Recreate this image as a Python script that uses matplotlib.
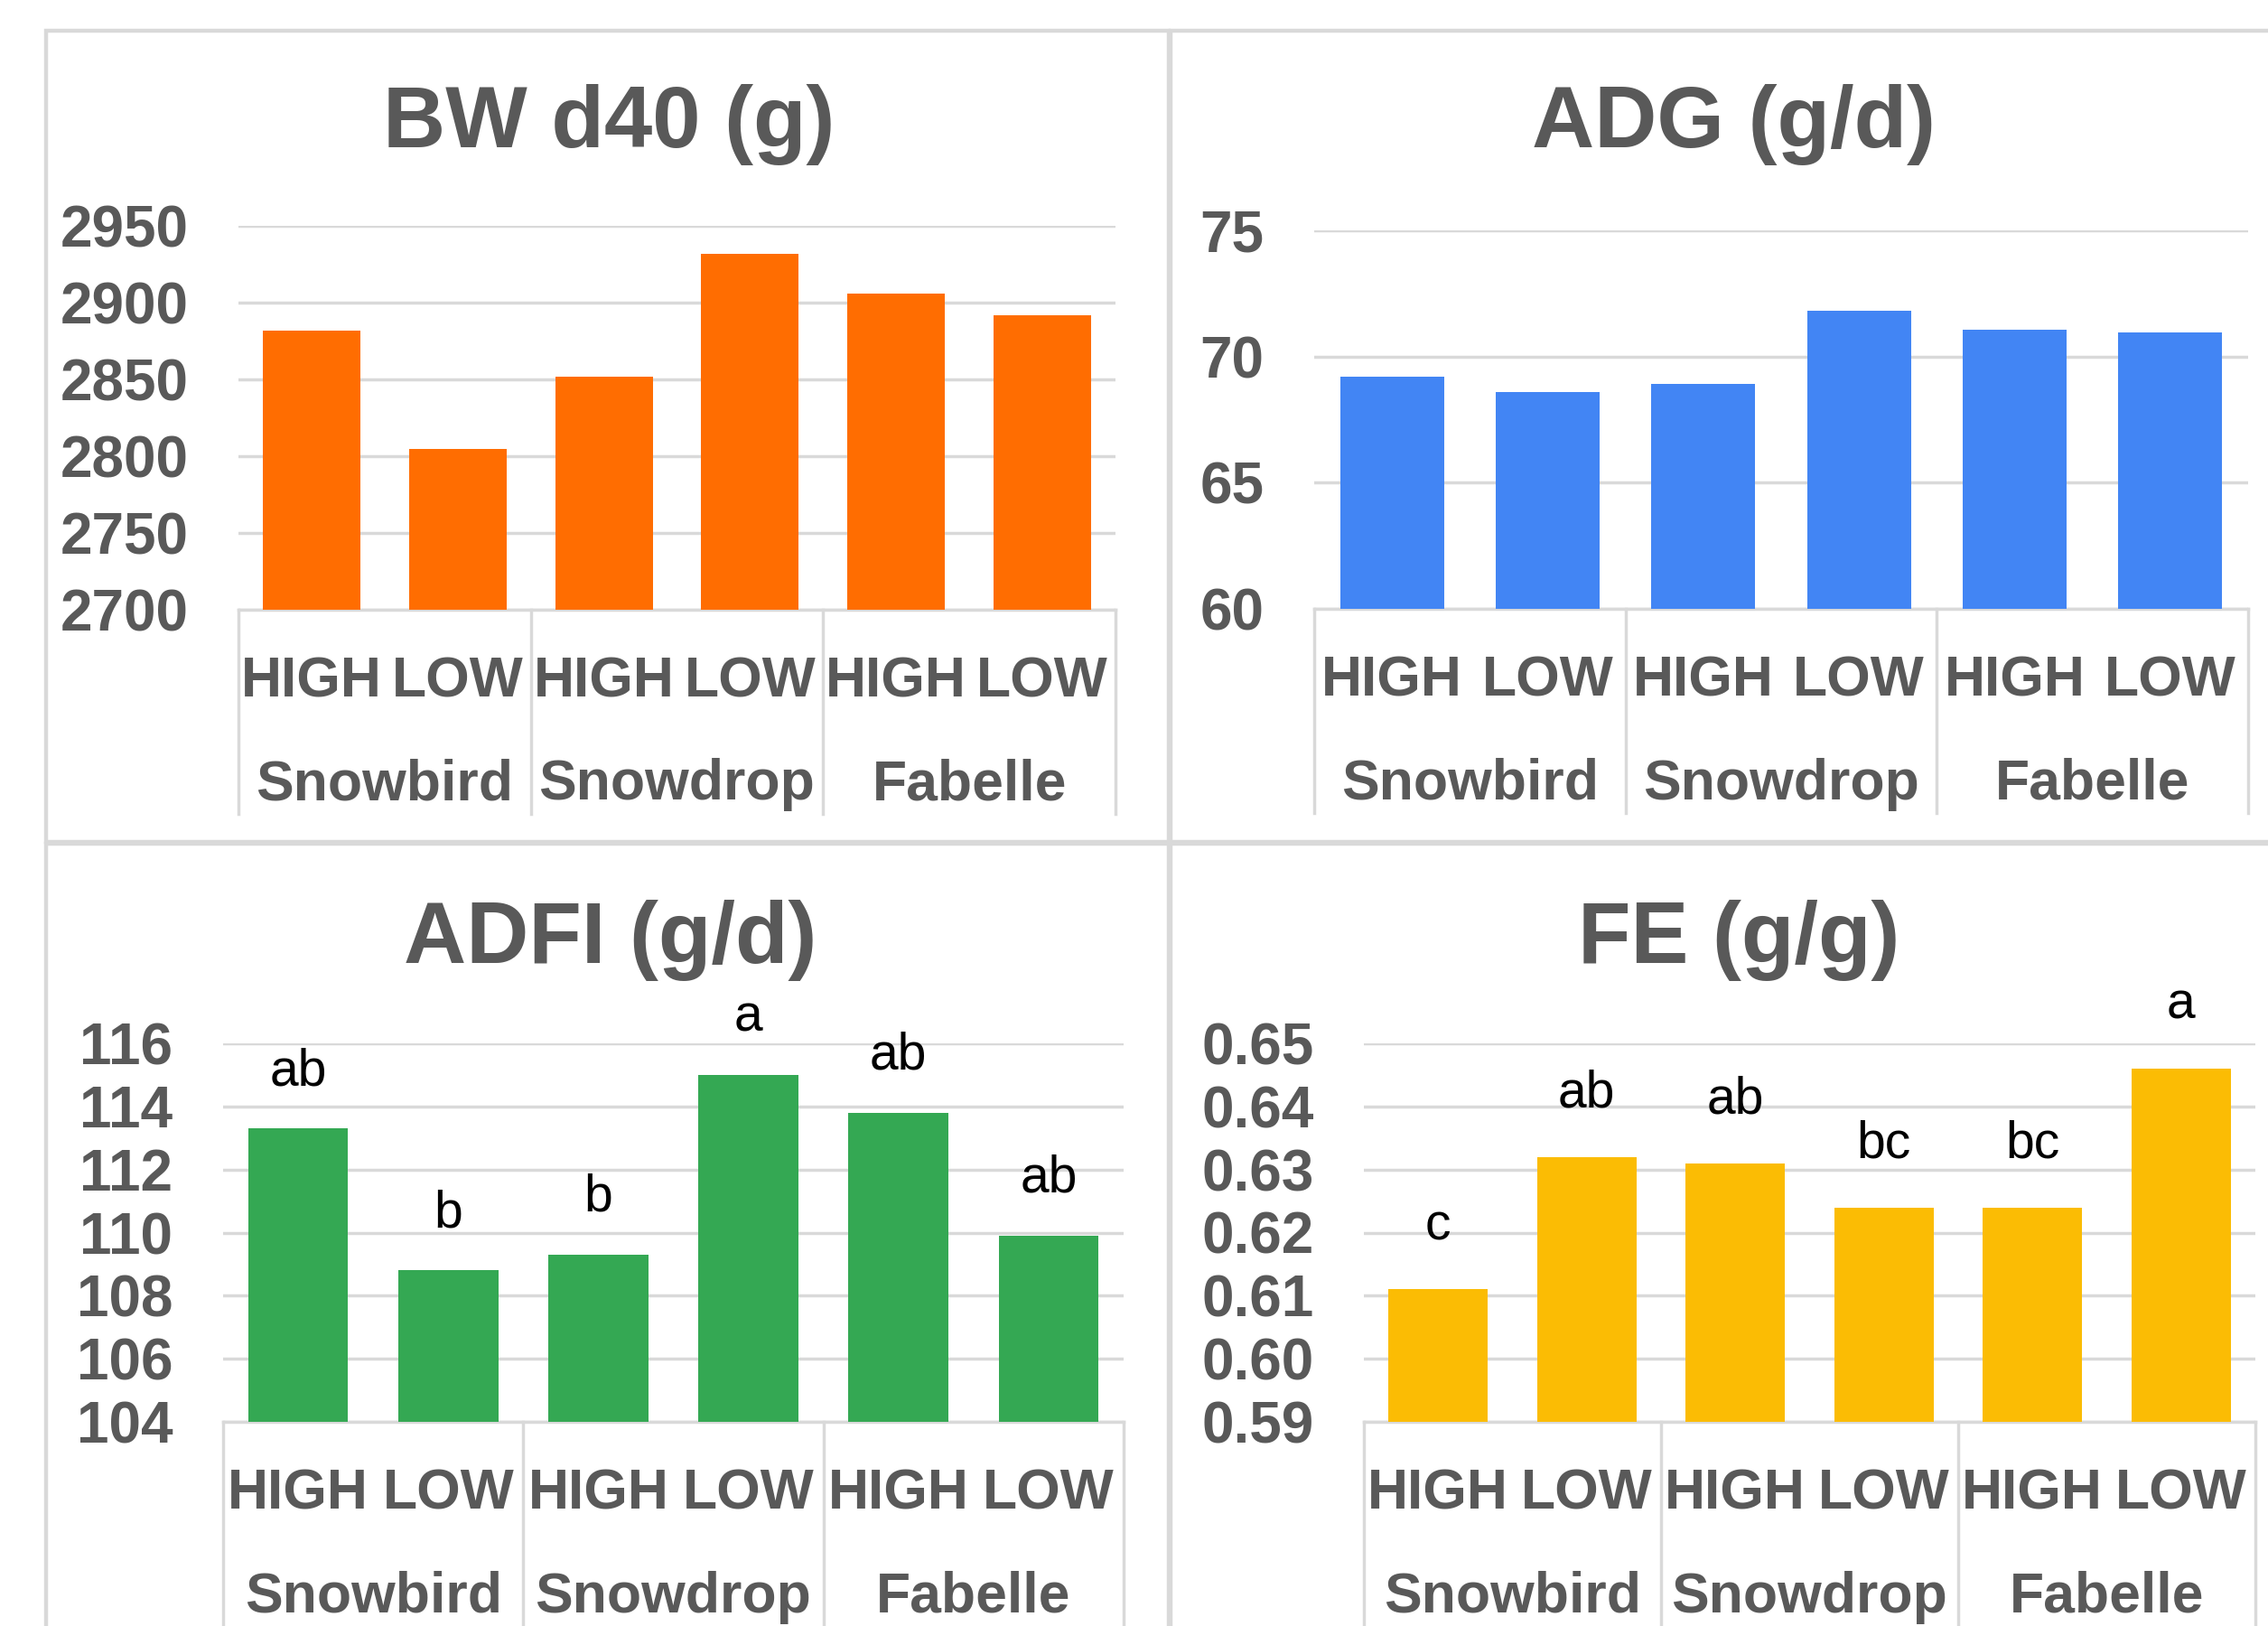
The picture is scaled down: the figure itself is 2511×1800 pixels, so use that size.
import matplotlib
matplotlib.use("Agg")
import matplotlib.pyplot as plt
from matplotlib.patches import Rectangle

W, H = 2511, 1800
DPI = 100

# --- data ---
groups = ["Snowbird", "Snowdrop", "Fabelle"]
levels = ["HIGH", "LOW"]

bw_d40 = [2882, 2805, 2852, 2932, 2906, 2892]
adg = [69.2, 68.6, 68.9, 71.8, 71.05, 70.95]
adfi = [113.3, 108.8, 109.3, 115.0, 113.8, 109.9]
fe = [0.611, 0.632, 0.631, 0.624, 0.624, 0.646]

adfi_letters = ["ab", "b", "b", "a", "ab", "ab"]
fe_letters = ["c", "ab", "ab", "bc", "bc", "a"]

bw_ticks = [2700, 2750, 2800, 2850, 2900, 2950]
adg_ticks = [60, 65, 70, 75]
adfi_ticks = [104, 106, 108, 110, 112, 114, 116]
fe_ticks = [0.59, 0.60, 0.61, 0.62, 0.63, 0.64, 0.65]

# --- style ---
INK = "#595959"
LINE = "#d9d9d9"
FONT = "Liberation Sans"
ORANGE, BLUE, GREEN, YELLOW = "#ff6d01", "#4285f4", "#34a853", "#fbbc04"

plt.rcParams.update({"font.family": FONT})


def px_axes(fig, left, top, right, bottom):
    return fig.add_axes([left / W, 1 - bottom / H, (right - left) / W, (bottom - top) / H])


def px_rect(fig, x0, y0, x1, y1):
    fig.patches.append(
        Rectangle((x0 / W, 1 - y1 / H), (x1 - x0) / W, (y1 - y0) / H,
                  transform=fig.transFigure, fill=False, edgecolor=LINE, linewidth=3.2)
    )


def draw_panel(fig, box, values, ticks, fmt, color, title, title_xy, letters=None,
               letter_off=52, divider_len=226):
    left, top, right, bottom = box
    ax = px_axes(fig, left, top, right, bottom)
    h_px = bottom - top
    x = list(range(len(values)))

    ax.bar(x, values, width=0.667, color=color, zorder=3)
    ax.set_xlim(-0.5, len(values) - 0.5)
    ax.set_ylim(ticks[0], ticks[-1])
    ax.set_yticks(ticks)
    ax.set_yticklabels([fmt.format(t) for t in ticks])
    ax.set_xticks([])
    ax.tick_params(axis="y", length=0, pad=40, labelsize=46, labelcolor=INK)
    for lbl in ax.get_yticklabels():
        lbl.set_fontweight("bold")

    for s in ("top", "right", "left"):
        ax.spines[s].set_visible(False)
    ax.spines["bottom"].set_color(LINE)
    ax.spines["bottom"].set_linewidth(2.5)
    ax.grid(axis="y", color=LINE, linewidth=2.5, zorder=0)
    ax.set_axisbelow(True)

    # two-level category axis
    trans = ax.get_xaxis_transform()
    for i in x:
        ax.annotate(levels[i % 2], xy=(i, 0), xycoords=trans, xytext=(0, -80),
                    textcoords="offset pixels", ha="center", va="center",
                    fontsize=45, fontweight="bold", color=INK, annotation_clip=False)
    for g, name in enumerate(groups):
        ax.annotate(name, xy=(2 * g + 0.5, 0), xycoords=trans, xytext=(0, -194),
                    textcoords="offset pixels", ha="center", va="center",
                    fontsize=45, fontweight="bold", color=INK, annotation_clip=False)
    for xd in [-0.5, 1.5, 3.5, 5.5]:
        ax.plot([xd, xd], [0, -divider_len / h_px], transform=trans, clip_on=False,
                color=LINE, linewidth=2.5)

    if letters:
        for i, (v, t) in enumerate(zip(values, letters)):
            ax.annotate(t, xy=(i, v), xytext=(0, letter_off), textcoords="offset pixels",
                        ha="center", va="baseline", fontsize=41, color="black",
                        annotation_clip=False)

    fig.text(title_xy[0] / W, 1 - title_xy[1] / H, title, ha="center", va="baseline",
             fontsize=69, fontweight="bold", color=INK)
    return ax


fig = plt.figure(figsize=(W / DPI, H / DPI), dpi=DPI, facecolor="white")

# panel frames
px_rect(fig, 51, 34, 1294, 932)
px_rect(fig, 1296, 34, 2560, 932)
px_rect(fig, 51, 934, 1294, 1850)
px_rect(fig, 1296, 934, 2560, 1850)

draw_panel(fig, (264, 250, 1235, 675), bw_d40, bw_ticks, "{:d}", ORANGE,
           "BW d40 (g)", (674, 163))
draw_panel(fig, (1455, 255, 2489, 674), adg, adg_ticks, "{:d}", BLUE,
           "ADG (g/d)", (1920, 163))
draw_panel(fig, (247, 1155, 1244, 1574), adfi, adfi_ticks, "{:d}", GREEN,
           "ADFI (g/d)", (676, 1066), letters=adfi_letters, letter_off=48, divider_len=240)
draw_panel(fig, (1510, 1155, 2497, 1574), fe, fe_ticks, "{:.2f}", YELLOW,
           "FE (g/g)", (1925, 1066), letters=fe_letters, letter_off=55, divider_len=240)

fig.savefig("out.png", dpi=DPI, facecolor="white")
